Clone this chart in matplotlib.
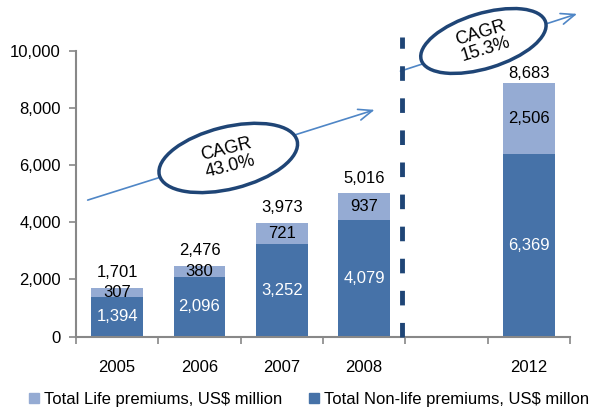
import matplotlib
matplotlib.use('Agg')
import matplotlib.pyplot as plt
import matplotlib.transforms as mtrans
from matplotlib.patches import Ellipse
from matplotlib.lines import Line2D
import numpy as np

plt.rcParams['font.family'] = ['Liberation Sans', 'DejaVu Sans']

years = ['2005', '2006', '2007', '2008', '', '2012']
non_life = [1394, 2096, 3252, 4079, np.nan, 6369]
life = [307, 380, 721, 937, np.nan, 2506]
totals = [1701, 2476, 3973, 5016, np.nan, 8683]
cagr_labels = ['CAGR\n43.0%', 'CAGR\n15.3%']

dark = '#4672a8'
light = '#95abd3'
navy = '#1f4576'
arrow_c = '#4f86c6'

fig = plt.figure(figsize=(6.03, 4.12), dpi=100)
ax = fig.add_axes([0.126, 0.183, 0.819, 0.694])

x = np.arange(len(years))
w = 0.63
ax.bar(x, non_life, w, color=dark, zorder=2)
ax.bar(x, life, w, bottom=non_life, color=light, zorder=2)

for i in range(len(years)):
    if np.isnan(totals[i]):
        continue
    ax.text(x[i], non_life[i] / 2, f'{int(non_life[i]):,}', ha='center', va='center',
            color='white', fontsize=12, zorder=3)
    ax.text(x[i], non_life[i] + life[i] / 2, f'{int(life[i]):,}', ha='center', va='center',
            color='black', fontsize=12, zorder=3)
    ax.annotate(f'{int(totals[i]):,}', (x[i], totals[i]), xytext=(0, 5.5),
                textcoords='offset points', ha='center', va='bottom', fontsize=12)

ax.set_xlim(-0.5, 5.5)
ax.set_ylim(0, 10000)
ax.set_yticks(range(0, 10001, 2000))
ax.set_yticklabels([f'{v:,}' for v in range(0, 10001, 2000)])
ax.set_xticks(x)
ax.set_xticklabels(years)
ax.set_xticks(np.arange(-0.5, 6, 1), minor=True)
ax.tick_params(axis='x', which='major', length=0, pad=17, labelsize=12)
ax.tick_params(axis='x', which='minor', length=5, width=1.2, color='#888888')
ax.tick_params(axis='y', length=5, width=1.2, color='#888888', pad=6, labelsize=12)
for s in ['top', 'right']:
    ax.spines[s].set_visible(False)
for s in ['left', 'bottom']:
    ax.spines[s].set_color('#888888')
    ax.spines[s].set_linewidth(1.5)

# dashed separator between history and forecast
ax.plot([3.46, 3.46], [0, 1.048], transform=ax.get_xaxis_transform(), color=navy,
        lw=3.5, ls=(0, (3, 3.6)), clip_on=False, zorder=4)

# CAGR arrows
ax.annotate('', xy=(3.16, 7960), xytext=(-0.39, 4745), annotation_clip=False,
            arrowprops=dict(arrowstyle='->,head_length=1.0,head_width=0.4', color=arrow_c, lw=1.2))
ax.annotate('', xy=(5.62, 11318), xytext=(3.41, 9255), annotation_clip=False,
            arrowprops=dict(arrowstyle='->,head_length=1.0,head_width=0.4', color=arrow_c, lw=1.2))

# ellipses with CAGR text
for (cx, cy), lab, ang, ew, eh in zip([(1.35, 6248), (4.45, 10339)], cagr_labels,
                                      [14, 17], [1.42, 1.30], [0.62, 0.55]):
    tr = fig.dpi_scale_trans + mtrans.ScaledTranslation(cx, cy, ax.transData)
    e = Ellipse((0, 0), ew, eh, angle=ang, transform=tr, facecolor='white',
                edgecolor=navy, lw=2.5, clip_on=False, zorder=5)
    ax.add_patch(e)
    ax.text(cx, cy, lab, ha='center', va='center', rotation=ang, fontsize=13,
            linespacing=1.0, zorder=6, rotation_mode='anchor')

handles = [Line2D([], [], marker='s', ls='none', color=light, markersize=7),
           Line2D([], [], marker='s', ls='none', color=dark, markersize=7)]
fig.legend(handles, ['Total Life premiums, US$ million', 'Total Non-life premiums, US$ millon'],
           loc='lower center', bbox_to_anchor=(0.51, -0.025), ncol=2, frameon=False,
           fontsize=12, handletextpad=0.1, columnspacing=1.4, handlelength=1.0)

fig.savefig('out.png', dpi=100)
